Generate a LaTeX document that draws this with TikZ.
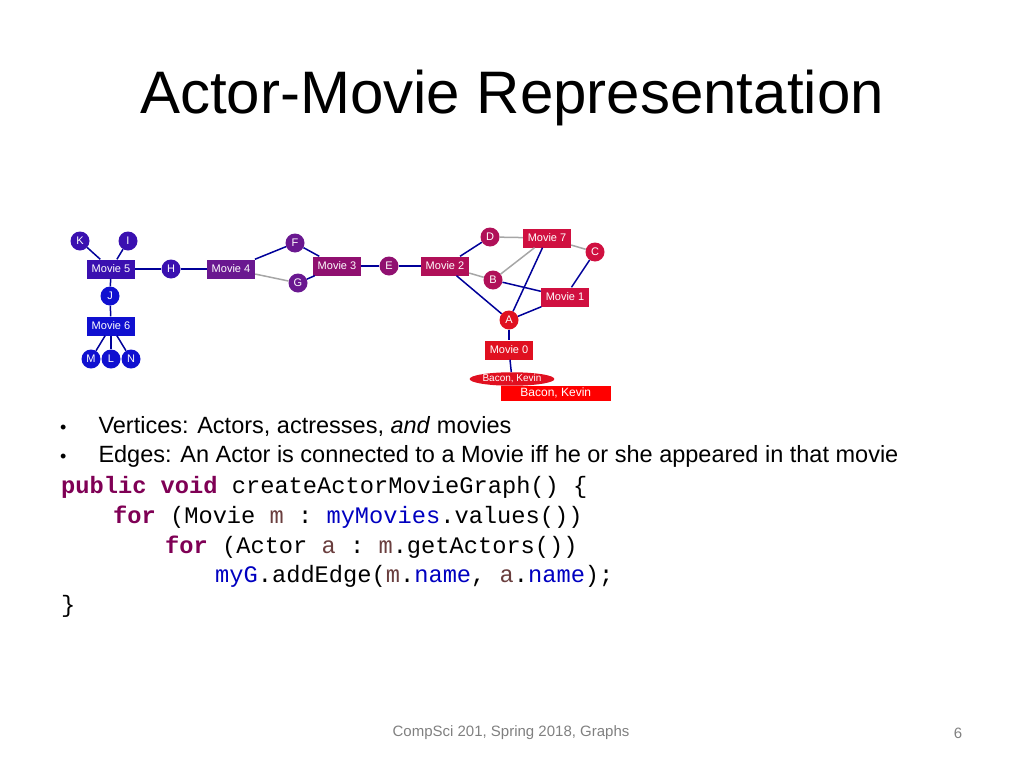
\documentclass[tikz,border=0pt]{standalone}
\usepackage{fontspec}
\setmainfont{Liberation Sans}
\setmonofont{Liberation Mono}
\newfontfamily\grfont{Liberation Sans}
\usetikzlibrary{shapes.geometric}
\definecolor{cA}{HTML}{1010D0}
\definecolor{cB}{HTML}{3A10B0}
\definecolor{cC}{HTML}{6A1890}
\definecolor{cD}{HTML}{901070}
\definecolor{cE}{HTML}{B01058}
\definecolor{cF}{HTML}{D01040}
\definecolor{cG}{HTML}{E01020}
\definecolor{kw}{HTML}{7F0055}
\definecolor{vr}{HTML}{6A3E3E}
\definecolor{fd}{HTML}{0000C0}
\tikzset{
  actor/.style={circle, fill=#1, text=white, font=\grfont\fontsize{11}{11}\selectfont, inner sep=0pt, minimum size=19pt},
  movie/.style={rectangle, fill=#1, text=white, font=\grfont\fontsize{11}{12}\selectfont, inner sep=2pt, minimum height=19pt, minimum width=48pt},
  bl/.style={draw=blue!60!black, line width=1.5pt},
  gr/.style={draw=gray!70, line width=1.5pt},
}
\begin{document}
\begin{tikzpicture}[x=1pt, y=-1pt]
\useasboundingbox (0,0) rectangle (1024,768);
% title
\node[anchor=west, inner sep=0pt, font=\fontsize{60}{60}\selectfont] (title) at (140,98) {Actor-Movie Representation};
% graph nodes
\node[actor=cB] (K) at (80,241) {K};
\node[actor=cB] (I) at (128,241) {I};
\node[movie=cB] (m5) at (111,269) {Movie 5};
\node[actor=cB] (H) at (171,269) {H};
\node[movie=cC] (m4) at (231,269) {Movie 4};
\node[actor=cC] (F) at (295,243) {F};
\node[actor=cC] (G) at (298,283) {G};
\node[movie=cD] (m3) at (337,266) {Movie 3};
\node[actor=cD] (E) at (389,266) {E};
\node[movie=cE] (m2) at (445,266) {Movie 2};
\node[actor=cE] (D) at (490,237) {D};
\node[movie=cF] (m7) at (547,238) {Movie 7};
\node[actor=cF] (C) at (595,252) {C};
\node[actor=cE] (B) at (493,280) {B};
\node[movie=cF] (m1) at (565,297) {Movie 1};
\node[actor=cG] (A) at (509,320) {A};
\node[movie=cG] (m0) at (509,350) {Movie 0};
\node[ellipse, fill=cG, text=white, font=\grfont\fontsize{10}{10}\selectfont, inner sep=0.5pt, minimum width=78pt, minimum height=12pt] (bac) at (512,379) {Bacon, Kevin};
\node[rectangle, fill=red, text=white, font=\grfont\fontsize{12}{12}\selectfont, inner sep=1pt, minimum width=110pt, minimum height=15pt, anchor=east] (bac2) at (611,393) {Bacon, Kevin};
\node[actor=cA] (J) at (110,296) {J};
\node[movie=cA] (m6) at (111,326) {Movie 6};
\node[actor=cA] (M) at (91,359) {M};
\node[actor=cA] (L) at (111,359) {L};
\node[actor=cA] (N) at (131,359) {N};
% edges
\foreach \a/\b in {K/m5,I/m5,m5/H,H/m4,m4/F,F/m3,G/m3,m3/E,E/m2,m2/D,m2/A,m7/A,C/m1,B/m1,m1/A,A/m0,m0/bac,m5/J,J/m6,m6/M,m6/L,m6/N}
  \draw[bl] (\a) -- (\b);
\foreach \a/\b in {m4/G,m2/B,D/m7,B/m7,m7/C}
  \draw[gr] (\a) -- (\b);
% bullets
\node[anchor=west, inner sep=0pt, font=\fontsize{23.5}{24}\selectfont] (b1) at (60,426) {\fontsize{18}{18}\selectfont\textbullet\fontsize{23.5}{24}\selectfont\hspace{32pt}Vertices: Actors, actresses, \textit{and} movies};
\node[anchor=west, inner sep=0pt, font=\fontsize{23.5}{24}\selectfont] (b2) at (60,456) {\fontsize{18}{18}\selectfont\textbullet\fontsize{23.5}{24}\selectfont\hspace{32pt}Edges: An Actor is connected to a Movie iff he or she appeared in that movie};
% code
\begin{scope}[every node/.style={anchor=west, font=\ttfamily\fontsize{23.7}{24}\selectfont, inner sep=0pt}]
\node (c1) at (61,487) {\textcolor{kw}{\textbf{public void}} createActorMovieGraph() \{};
\node (c2) at (61,517) {\hspace*{52pt}\textcolor{kw}{\textbf{for}} (Movie \textcolor{vr}{m} : \textcolor{fd}{myMovies}.values())};
\node (c3) at (61,547) {\hspace*{104pt}\textcolor{kw}{\textbf{for}} (Actor \textcolor{vr}{a} : \textcolor{vr}{m}.getActors())};
\node (c4) at (61,576) {\hspace*{154pt}\textcolor{fd}{myG}.addEdge(\textcolor{vr}{m}.\textcolor{fd}{name}, \textcolor{vr}{a}.\textcolor{fd}{name});};
\node (c5) at (61,606) {\}};
\end{scope}
% footer
\node[font=\fontsize{15}{15}\selectfont, text=gray] (foot) at (511,733) {CompSci 201, Spring 2018, Graphs};
\node[font=\fontsize{15}{15}\selectfont, text=gray] (pg) at (958,733) {6};
\end{tikzpicture}
\end{document}
